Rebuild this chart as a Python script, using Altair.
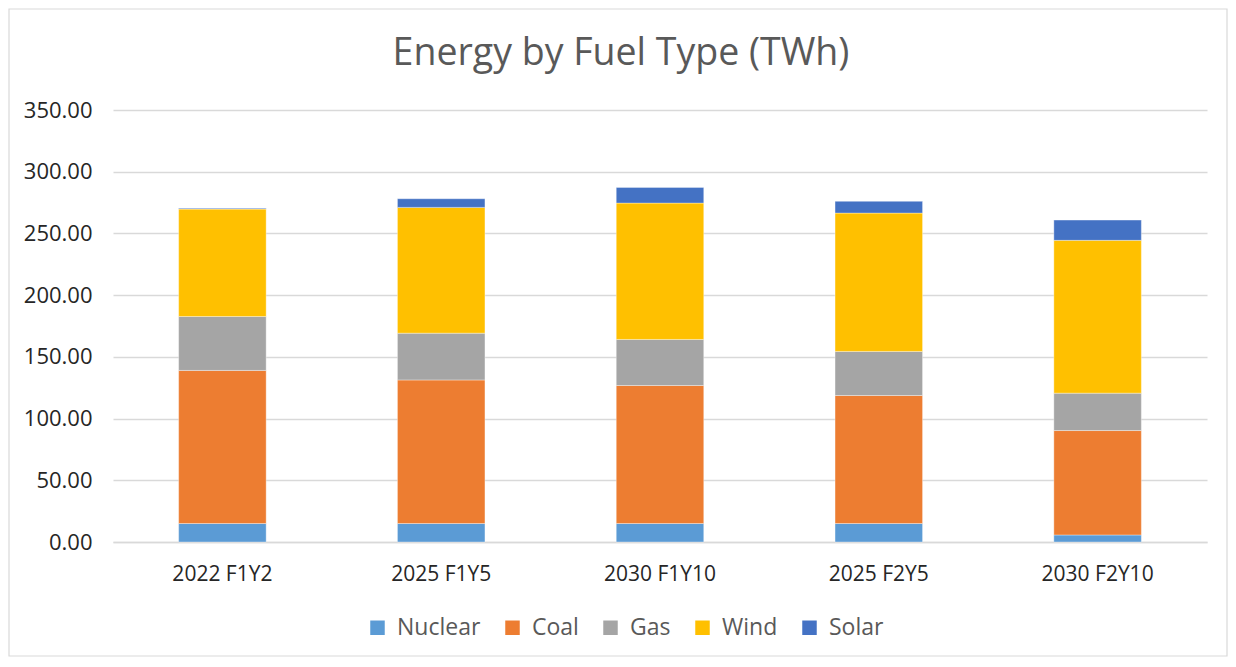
import altair as alt
import pandas as pd

scenarios = ["2022 F1Y2", "2025 F1Y5", "2030 F1Y10", "2025 F2Y5", "2030 F2Y10"]
fuels = ["Nuclear", "Coal", "Gas", "Wind", "Solar"]
colors = ["#5B9BD5", "#ED7D31", "#A5A5A5", "#FFC000", "#4472C4"]
title_text = "Energy by Fuel Type (TWh)"

nuclear = [15.0, 15.0, 15.0, 15.0, 5.7]
coal = [124.0, 116.3, 111.8, 103.7, 84.6]
gas = [43.7, 37.9, 37.3, 35.7, 30.3]
wind = [87.0, 101.9, 110.5, 112.1, 123.8]
solar = [0.6, 7.0, 12.7, 9.5, 16.4]

series = [nuclear, coal, gas, wind, solar]
rows = []
for i, (fuel, vals) in enumerate(zip(fuels, series)):
    for s, v in zip(scenarios, vals):
        rows.append({"Scenario": s, "Fuel": fuel, "Value": v, "idx": i})
df = pd.DataFrame(rows)

FONT = "Open Sans"
TXT = "#595959"
AX = "#262626"
W, H = 1094, 432
PAD = {"left": 105, "top": 102, "right": 21, "bottom": 115}

bars = alt.Chart(df).mark_bar(stroke="white", strokeWidth=0.6, strokeOpacity=0.6).encode(
    x=alt.X("Scenario:N", sort=scenarios, title=None,
            scale=alt.Scale(paddingInner=0.6, paddingOuter=0.3),
            axis=alt.Axis(labelAngle=0, labelFontSize=21, labelColor=AX, labelFont=FONT,
                          ticks=False, domain=True, domainColor="#D9D9D9", domainWidth=1.5,
                          labelPadding=21)),
    y=alt.Y("Value:Q", stack="zero", title=None,
            scale=alt.Scale(domain=[0, 350], nice=False),
            axis=alt.Axis(values=[0, 50, 100, 150, 200, 250, 300, 350], format=".2f",
                          labelFontSize=22, labelColor=AX, labelFont=FONT,
                          ticks=False, domain=False, grid=True, gridColor="#D9D9D9",
                          gridWidth=1.5, labelPadding=21)),
    color=alt.Color("Fuel:N", sort=fuels,
                    scale=alt.Scale(domain=fuels, range=colors),
                    legend=alt.Legend(title=None, orient="none", legendX=253, legendY=506,
                                      direction="horizontal",
                                      symbolType="square", symbolSize=210, symbolStrokeWidth=0,
                                      labelFontSize=23, labelColor=TXT, labelFont=FONT,
                                      columnPadding=20, labelOffset=8)),
    order=alt.Order("idx:Q", sort="ascending"),
    tooltip=["Scenario", "Fuel", "Value"],
)

frame = alt.Chart(pd.DataFrame({"f": [0]})).mark_rect(
    fill=None, stroke="#D9D9D9", strokeWidth=1.2
).encode(
    x=alt.value(-PAD["left"] + 1),
    x2=alt.value(W + PAD["right"] - 1),
    y=alt.value(-PAD["top"] + 1),
    y2=alt.value(H + PAD["bottom"] - 1),
)

title = alt.Chart(pd.DataFrame({"t": [title_text]})).mark_text(
    fontSize=37.5, font=FONT, color=TXT, align="center", baseline="middle"
).encode(
    text="t:N",
    x=alt.value(508),
    y=alt.value(-56),
)

chart = alt.layer(frame, bars, title).properties(
    width=W,
    height=H,
    autosize=alt.AutoSizeParams(type="none"),
    padding=PAD,
).configure_view(stroke=None)

chart.save("out.html", embed_options={"renderer": "svg", "actions": False})
